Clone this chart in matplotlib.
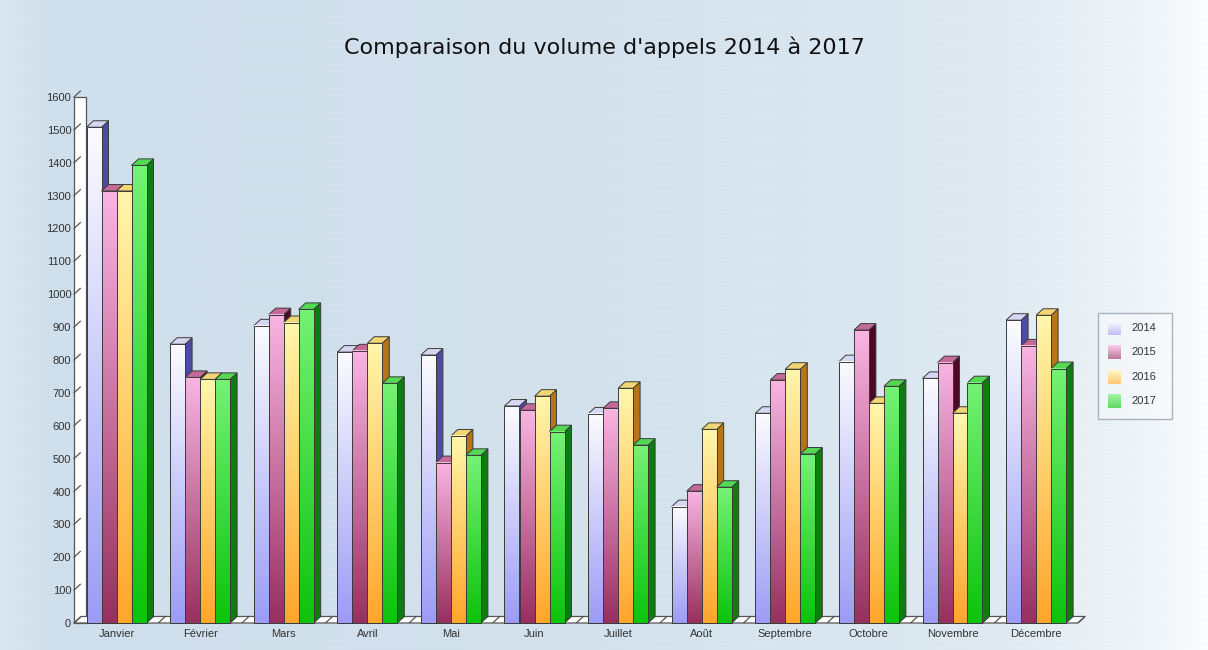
import numpy as np
import matplotlib.pyplot as plt
from matplotlib.colors import to_rgb
from matplotlib.patches import Polygon, Rectangle

W, H = 1208, 650

months = ["Janvier", "Février", "Mars", "Avril", "Mai", "Juin", "Juillet",
          "Août", "Septembre", "Octobre", "Novembre", "Décembre"]
years = ["2014", "2015", "2016", "2017"]

calls_2014 = [1508, 848, 904, 824, 815, 660, 636, 354, 638, 795, 744, 921]
calls_2015 = [1314, 747, 938, 828, 488, 647, 653, 401, 739, 891, 792, 843]
calls_2016 = [1314, 741, 914, 851, 569, 690, 714, 589, 772, 668, 638, 936]
calls_2017 = [1392, 741, 954, 729, 510, 582, 541, 413, 514, 720, 731, 774]
series = [calls_2014, calls_2015, calls_2016, calls_2017]

# (front top, front bottom, side, top face)
palette = [
    ("#fbfbff", "#9c9cf6", "#4c4ca4", "#d6d6f2"),
    ("#f9b4e2", "#983060", "#4a0a26", "#c46a98"),
    ("#fff6aa", "#ffa62c", "#b87418", "#f2d674"),
    ("#74f274", "#0cc40c", "#0e7c0e", "#54d854"),
]


def gradient(top, bottom, n=64):
    t = np.linspace(0, 1, n)[:, None]
    c = (1 - t) * np.array(to_rgb(bottom)) + t * np.array(to_rgb(top))
    return c[:, None, :]


fig = plt.figure(figsize=(W / 100, H / 100), dpi=100)

# background: light blue fading to white on the right, faint scan lines
bg = fig.add_axes([0, 0, 1, 1], zorder=-10)
xs = np.linspace(0, 1, W)
stops_x = [0, 0.04, 0.5, 0.83, 0.95, 1]
stops_c = np.array([(220, 232, 241), (208, 224, 236), (212, 227, 238),
                    (224, 235, 243), (240, 246, 250), (252, 253, 254)]) / 255
row = np.stack([np.interp(xs, stops_x, stops_c[:, k]) for k in range(3)], axis=1)
img = np.repeat(row[None, :, :], H, axis=0)
img[::3] *= 0.985
bg.imshow(img, aspect="auto", extent=(0, 1, 0, 1))
bg.axis("off")

PX = 83.6                       # pixels per category
YPX = 526 / 1600                # pixels per call
x_left = (74 - 116.5) / PX
x_right = (1090 - 116.5) / PX
DX = 7 / PX
DY = 6.5 / YPX
bw = 15 / PX

ax = fig.add_axes([74 / W, (H - 623) / H, (1090 - 74) / W, 526 / H])
ax.set_facecolor("none")
edge = "#3a3a3a"

# side wall with diagonal ticks
wall_w = 12 / PX
ax.add_patch(Rectangle((x_left, 0), wall_w, 1600, facecolor="white",
                       edgecolor="#555555", lw=0.9, zorder=1, clip_on=False))
for v in range(0, 1700, 100):
    ax.plot([x_left, x_left + DX * 0.9], [v, v + DY * 0.9], color="#555555",
            lw=0.9, zorder=1.5, clip_on=False)

# floor
x_end = (1078 - 116.5) / PX
ax.add_patch(Polygon([(x_left, 0), (x_end, 0), (x_end + DX, DY),
                      (x_left + DX, DY)], closed=True, facecolor="white",
                     edgecolor="#555555", lw=0.9, zorder=1, clip_on=False))
for b in np.arange(0.5, 12, 1.0):
    ax.plot([b, b + DX], [0, DY], color="#555555", lw=0.9, zorder=1.2)

z = 2
for i in range(len(months)):
    for j, vals in enumerate(series):
        v = vals[i]
        top_c, bot_c, side_c, lid_c = palette[j]
        x0 = i + (j - 2) * bw
        x1 = x0 + bw
        ax.add_patch(Polygon([(x1, 0), (x1 + DX, DY), (x1 + DX, v + DY), (x1, v)],
                             closed=True, facecolor=side_c, edgecolor=edge,
                             lw=0.7, zorder=z, clip_on=False))
        ax.add_patch(Polygon([(x0, v), (x0 + DX, v + DY), (x1 + DX, v + DY), (x1, v)],
                             closed=True, facecolor=lid_c, edgecolor=edge,
                             lw=0.7, zorder=z, clip_on=False))
        ax.imshow(gradient(top_c, bot_c), extent=(x0, x1, 0, v), origin="lower",
                  aspect="auto", zorder=z + 0.1, interpolation="bilinear")
        ax.add_patch(Rectangle((x0, 0), bw, v, facecolor="none", edgecolor=edge,
                               lw=0.7, zorder=z + 0.2, clip_on=False))
        z += 1

ax.set_xlim(x_left, x_right)
ax.set_ylim(0, 1600)
ax.set_yticks(range(0, 1700, 100))
ax.set_xticks(range(len(months)))
ax.set_xticklabels(months)
ax.tick_params(length=0, labelsize=8, labelcolor="#333333", labelfontfamily="Liberation Sans")
ax.tick_params(axis="y", pad=2)
ax.tick_params(axis="x", pad=4)
for s in ax.spines.values():
    s.set_visible(False)

fig.text(604 / W, 1 - 47 / H, "Comparaison du volume d'appels 2014 à 2017",
         ha="center", va="center", fontsize=16, color="#111111")

# legend box with gradient swatches
lg = fig.add_axes([1097 / W, (H - 420) / H, 76 / W, 108 / H])
lg.axis("off")
for j, yc in enumerate([16, 40, 65, 89]):
    top_c, bot_c, _, _ = palette[j]
    lg.imshow(gradient(top_c, bot_c), extent=(11, 24, yc + 7, yc - 7),
              origin="lower", aspect="auto", interpolation="bilinear")
    lg.text(34, yc, years[j], va="center", ha="left", fontsize=8,
            color="#333333", family="Liberation Sans")
lg.add_patch(Rectangle((1, 1), 74, 106, facecolor=(1, 1, 1, 0.35),
                       edgecolor="#aab3be", lw=1, zorder=0, clip_on=False))
lg.set_xlim(0, 76)
lg.set_ylim(108, 0)

fig.savefig("out.png", dpi=100)
